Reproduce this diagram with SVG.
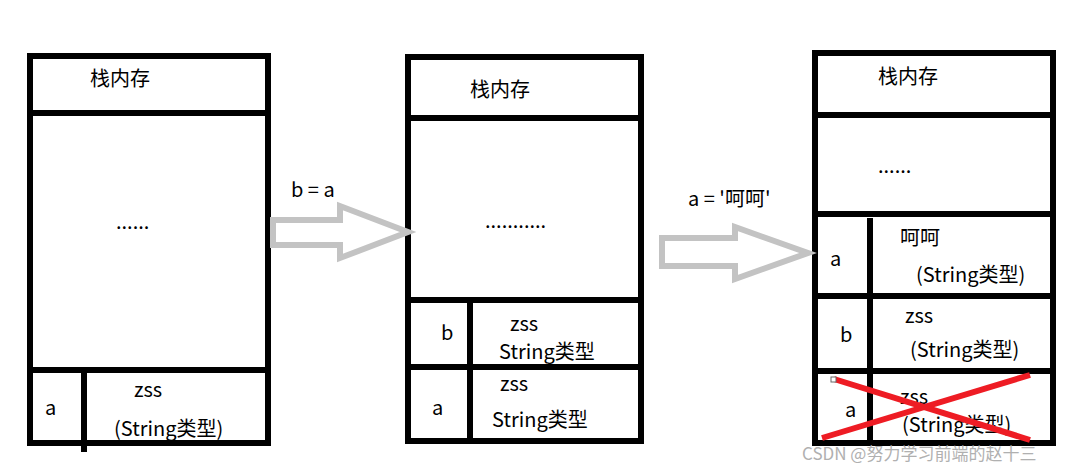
<svg xmlns="http://www.w3.org/2000/svg" width="1087" height="472" viewBox="0 0 1087 472">
<style>
.b{fill:none;stroke:#000;stroke-width:6}
.l{stroke:#000;stroke-width:6}
.ar{fill:#fff;stroke:#c3c3c3;stroke-width:6;stroke-linejoin:miter}
text{font-family:"Noto Sans CJK SC","Microsoft YaHei",sans-serif;font-size:20px;fill:#000}
.w{fill:#b0b0b0;font-size:17px}
</style>
<rect width="1087" height="472" fill="#fff"/>
<g id="stack1">
<rect class="b" x="30" y="56" width="238" height="387"/>
<line class="l" x1="30" y1="113" x2="271" y2="113"/>
<line class="l" x1="33" y1="370" x2="271" y2="370"/>
<line class="l" x1="84" y1="370" x2="84" y2="452"/>
<text x="90" y="86">栈内存</text>
<text x="116" y="229">......</text>
<text x="45" y="415">a</text>
<text x="134" y="397">zss</text>
<text x="114" y="436">(String类型)</text>
</g>
<g id="stack2">
<rect class="b" x="408" y="57" width="233" height="384"/>
<line class="l" x1="408" y1="118" x2="641" y2="118"/>
<line class="l" x1="408" y1="300" x2="641" y2="300"/>
<line class="l" x1="408" y1="367" x2="641" y2="367"/>
<line class="l" x1="470" y1="300" x2="470" y2="441"/>
<text x="470" y="97">栈内存</text>
<text x="485" y="228">...........</text>
<text x="441" y="340">b</text>
<text x="510" y="331">zss</text>
<text x="499" y="359" font-size="19">String类型</text>
<text x="432" y="415">a</text>
<text x="500" y="391">zss</text>
<text x="492" y="427">String类型</text>
</g>
<g id="stack3">
<rect class="b" x="815" y="53" width="238" height="390"/>
<line class="l" x1="815" y1="115" x2="1053" y2="115"/>
<line class="l" x1="815" y1="214" x2="1053" y2="214"/>
<line class="l" x1="815" y1="296" x2="1053" y2="296"/>
<line class="l" x1="815" y1="371" x2="1053" y2="371"/>
<line class="l" x1="870" y1="218" x2="870" y2="443"/>
<text x="878" y="84">栈内存</text>
<text x="878" y="173">......</text>
<text x="830" y="266">a</text>
<text x="900" y="245">呵呵</text>
<text x="916" y="282">(String类型)</text>
<text x="840" y="342">b</text>
<text x="905" y="323">zss</text>
<text x="910" y="357">(String类型)</text>
<text x="845" y="417">a</text>
<text x="900" y="404">zss</text>
<text x="902" y="432">(String类型)</text>
<line x1="822" y1="438" x2="1030" y2="375" stroke="#ee1c24" stroke-width="6"/>
<line x1="834" y1="379" x2="1030" y2="440" stroke="#ee1c24" stroke-width="6"/>
<rect x="831" y="377" width="5" height="5" fill="#fff" stroke="#666" stroke-width="1"/>
</g>
<g id="connectors">
<polygon class="ar" points="273,220 340,220 340,206 408,232 340,258 340,245 273,245"/>
<polygon class="ar" points="662,238 735,238 735,227 808,253 735,279 735,266 662,266"/>
<text x="291" y="197">b = a</text>
<text x="688" y="206">a = '呵呵'</text>
</g>
<text class="w" x="802" y="460">CSDN @努力学习前端的赵十三</text>
</svg>
